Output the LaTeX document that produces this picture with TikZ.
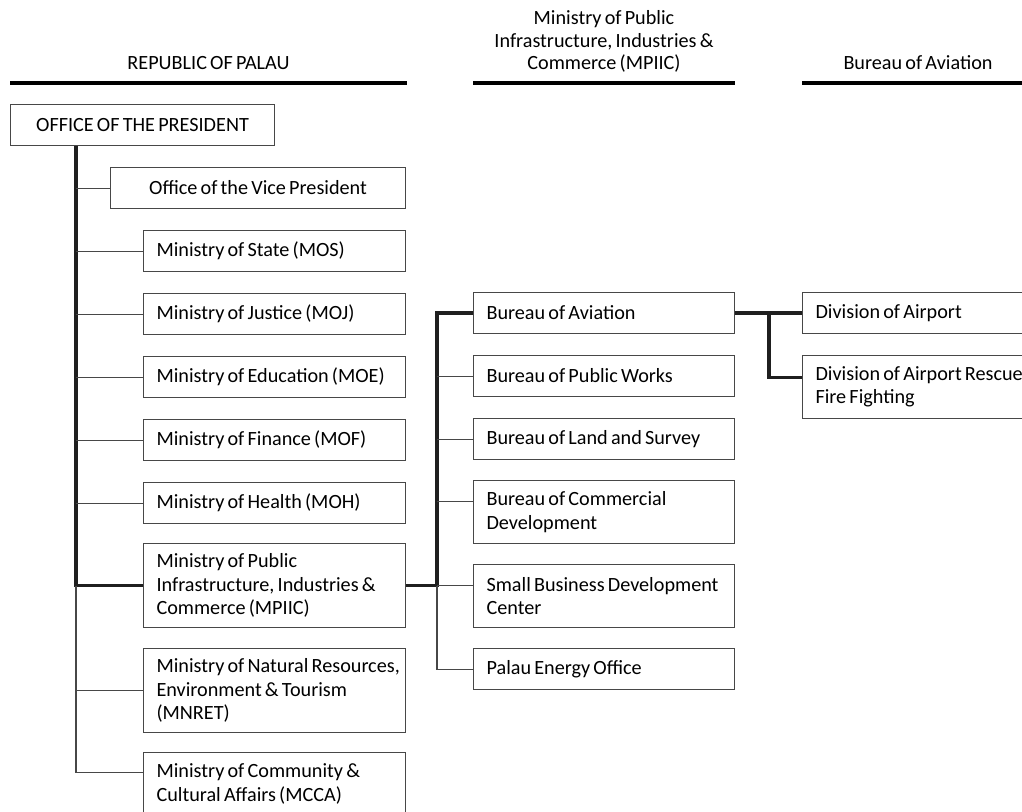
\documentclass[tikz,border=0pt]{standalone}
\usepackage{fontspec}
\setmainfont{Carlito}[WordSpace=0.7]
\usetikzlibrary{arrows.meta}
\hyphenpenalty=10000
\exhyphenpenalty=10000
\setlength{\parindent}{0pt}

\tikzset{
  every node/.style={font=\fontsize{20.2pt}{23.4pt}\selectfont},
  box/.style={draw=black!72, line width=1.1pt, anchor=north west,
    minimum height=41pt, inner xsep=13pt, inner ysep=3pt, align=left,
    execute at begin node={\spaceskip=0pt\xspaceskip=0pt\relax}},
  minbox/.style={box, text width=236pt},
  burbox/.style={box, text width=235pt},
  divbox/.style={box, text width=240pt},
  topbox/.style={box, align=center},
  head/.style={anchor=south, align=center, inner sep=0pt,
    font=\fontsize{20.2pt}{22.8pt}\selectfont},
  rule/.style={line width=3.6pt},
  trunk/.style={draw=black!88, line width=3.6pt},
  twig/.style={draw=black!72, line width=1.1pt}
}

\begin{document}
\begin{tikzpicture}[x=1pt, y=-1pt]
  \useasboundingbox (0,0) rectangle (1022,811);
  \clip (0,0) rectangle (1022,811);
  % Column headings.
  \node[head] (hpalau) at (208.5,70) {REPUBLIC OF PALAU};
  \draw[rule] (10,83) -- (407,83);
  \node[head] (hmpiic) at (604,73) {Ministry of Public\\Infrastructure, Industries \&\\Commerce (MPIIC)};
  \draw[rule] (473,83) -- (735,83);
  \node[head] (hbav) at (918,70) {Bureau of Aviation};
  \draw[rule] (802,83) -- (1022,83);
  % President and ministries.
  \node[topbox, minimum width=264pt] (pres) at (10,104) {OFFICE OF THE PRESIDENT};
  \node[topbox, minimum width=295pt] (vp) at (110,167) {Office of the Vice President};
  \node[minbox] (mos) at (143,230) {Ministry of State (MOS)};
  \node[minbox] (moj) at (143,293) {Ministry of Justice (MOJ)};
  \node[minbox] (moe) at (143,356) {Ministry of Education (MOE)};
  \node[minbox] (mof) at (143,419) {Ministry of Finance (MOF)};
  \node[minbox] (moh) at (143,482) {Ministry of Health (MOH)};
  \node[minbox, minimum height=84pt] (mpiic) at (143,543) {Ministry of Public\\Infrastructure, Industries \&\\Commerce (MPIIC)};
  \node[minbox, minimum height=84pt] (mnret) at (143,648) {\mbox{Ministry of Natural Resources,}\\Environment \& Tourism\\(MNRET)};
  \node[minbox, minimum height=63pt] (mcca) at (143,752) {Ministry of Community \&\\Cultural Affairs (MCCA)};
  % Bureaus of MPIIC.
  \node[burbox] (bav) at (473,292) {Bureau of Aviation};
  \node[burbox] (bpw) at (473,355) {Bureau of Public Works};
  \node[burbox] (bls) at (473,418) {Bureau of Land and Survey};
  \node[burbox, minimum height=63pt] (bcd) at (473,480) {Bureau of Commercial\\Development};
  \node[burbox, minimum height=63pt] (sbd) at (473,564) {Small Business Development\\Center};
  \node[burbox] (peo) at (473,648) {Palau Energy Office};
  % Divisions of aviation.
  \node[divbox] (dair) at (802,292) {Division of Airport};
  \node[divbox, minimum height=63pt] (darf) at (802,355) {Division of Airport Rescue\\Fire Fighting};
  % Connectors.
  \coordinate (tk) at (76,146);
  \coordinate (bj) at (437,0);
  \coordinate (dj) at (769,0);
  \coordinate (mccain) at ([yshift=11.5pt]mcca.west);
  \coordinate (bcdin) at ([yshift=10.5pt]bcd.west);
  \coordinate (darfin) at ([yshift=9.5pt]darf.west);
  \draw[trunk] (pres.south -| tk) -- (tk |- mpiic.west) -- (mpiic.west);
  \draw[twig] (tk |- mpiic.west) |- (mccain);
  \foreach \n in {vp,mos,moj,moe,mof,moh,mnret}
    \draw[twig] (tk |- \n.west) -- (\n.west);
  \draw[trunk] (mpiic.east) -- (mpiic.east -| bj) |- (bav.west);
  \draw[twig] (mpiic.east -| bj) -- (mpiic.east -| sbd.west);
  \draw[twig] (mpiic.east -| bj) |- (peo.west);
  \draw[twig] (bj |- bpw.west) -- (bpw.west);
  \draw[twig] (bj |- bls.west) -- (bls.west);
  \draw[twig] (bj |- bcdin) -- (bcdin);
  \draw[trunk] (bav.east) -- (dair.west);
  \draw[trunk] (bav.east -| dj) |- (darfin);
\end{tikzpicture}
\end{document}
